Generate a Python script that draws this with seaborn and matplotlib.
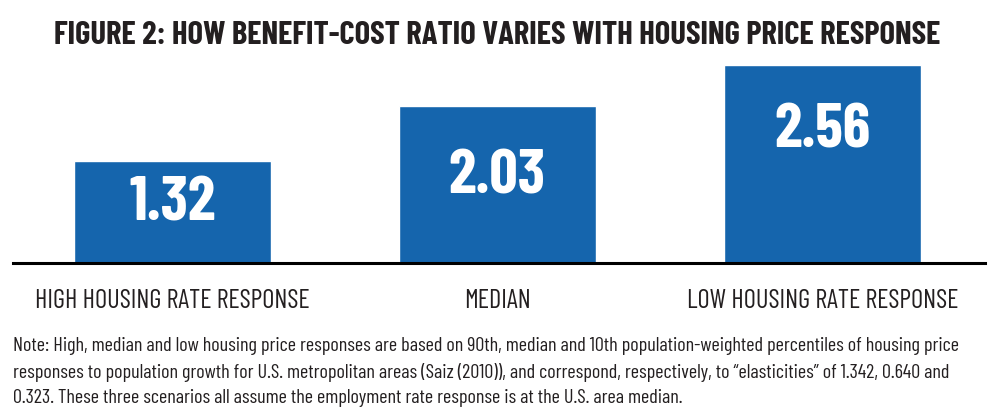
import matplotlib
matplotlib.use("Agg")
import matplotlib.pyplot as plt
import pandas as pd
import seaborn as sns

categories = ["HIGH HOUSING RATE RESPONSE", "MEDIAN", "LOW HOUSING RATE RESPONSE"]
ratios = [1.32, 2.03, 2.56]
value_labels = ["1.32", "2.03", "2.56"]

title = "FIGURE 2: HOW BENEFIT-COST RATIO VARIES WITH HOUSING PRICE RESPONSE"
note_lines = [
    "Note: High, median and low housing price responses are based on 90th, median and 10th population-weighted percentiles of housing price",
    "responses to population growth for U.S. metropolitan areas (Saiz (2010)), and correspond, respectively, to \u201celasticities\u201d of 1.342, 0.640 and",
    "0.323. These three scenarios all assume the employment rate response is at the U.S. area median.",
]

sns.set_style("white")
plt.rcParams["font.family"] = ["Barlow Condensed", "DejaVu Sans"]

df = pd.DataFrame({"category": categories, "ratio": ratios})
blue = "#1565ad"
ink = "#231f20"

fig = plt.figure(figsize=(10, 4.16), dpi=100)
ax = fig.add_axes([0.013, (416 - 263) / 416, 0.972, (263 - 65) / 416])
sns.barplot(data=df, x="category", y="ratio", color=blue, width=0.605,
            saturation=1, ax=ax)
ax.set_xlim(-0.49, 2.5)
ax.set_ylim(0, 2.56)
ax.set_yticks([])
ax.set_xlabel("")
ax.set_ylabel("")
for s in ["left", "right", "top"]:
    ax.spines[s].set_visible(False)
ax.spines["bottom"].set_color("black")
ax.spines["bottom"].set_linewidth(2.2)
ax.tick_params(axis="x", length=0, pad=19, labelsize=19, labelcolor=ink)

# value labels sit inside each bar
offsets = [0.49, 0.85, 0.78]
for i, (v, lab) in enumerate(zip(ratios, value_labels)):
    ax.text(i, v - offsets[i], lab, ha="center", va="center_baseline",
            color="white", fontsize=45, fontweight="bold")

fig.text(0.4975, 1 - 32 / 416, title, ha="center", va="center_baseline",
         fontsize=23.5, fontweight="bold", color=ink)
for k, line in enumerate(note_lines):
    fig.text(0.013, 1 - (344 + 26 * k) / 416, line, ha="left",
             va="center_baseline", fontsize=14.5, color=ink)

fig.savefig("out.png", dpi=100)
